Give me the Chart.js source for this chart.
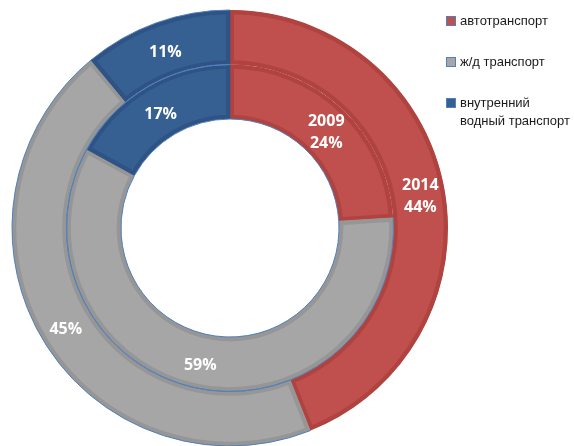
<!DOCTYPE html>
<html>
<head>
<meta charset="utf-8">
<script src="https://cdn.jsdelivr.net/npm/chart.js@4"></script>
<style>
  html, body { margin: 0; padding: 0; background: #fff; }
  #wrap { position: relative; width: 574px; height: 446px; }
  #legend { position: absolute; left: 446px; top: 12px; font-family: "Liberation Sans", sans-serif; font-size: 13px; color: #1a1a1a; }
  .item { position: relative; padding-left: 14px; line-height: 18px; margin-bottom: 23px; }
  .box { position: absolute; left: 0; top: 4px; width: 8px; height: 8px; border: 1px solid #4F81BD; }
</style>
</head>
<body>
<div id="wrap">
  <canvas id="chart" width="574" height="446"></canvas>
  <div id="legend"></div>
</div>
<script>
// --- Data ---
const categories = ["автотранспорт", "ж/д транспорт", "внутренний водный транспорт"];
const legendLines = [["автотранспорт"], ["ж/д транспорт"], ["внутренний", "водный транспорт"]];
const years = ["2014", "2009"];
const values2014 = [44, 45, 11];
const values2009 = [24, 59, 17];

const fillColors = ["#C0504D", "#A6A6A6", "#376092"];
const edgeColors = ["#B0433F", "#969696", "#2E5384"];

// --- Legend (HTML) ---
const legendEl = document.getElementById("legend");
legendLines.forEach((lines, i) => {
  const div = document.createElement("div");
  div.className = "item";
  div.innerHTML = '<span class="box" style="background:' + fillColors[i] + '"></span>' + lines.join("<br>");
  legendEl.appendChild(div);
});

// --- Plugin: thin blue outlines + value labels ---
const ringDecor = {
  id: "ringDecor",
  afterDatasetsDraw(chart) {
    const ctx = chart.ctx;
    ctx.save();
    ctx.strokeStyle = "#4F81BD";
    ctx.lineWidth = 1;
    chart.data.datasets.forEach((ds, di) => {
      const meta = chart.getDatasetMeta(di);
      meta.data.forEach((arc, i) => {
        const p = arc.getProps(["x", "y", "startAngle", "endAngle", "innerRadius", "outerRadius"], true);
        if (i > 0 || di > 0) {
          ctx.beginPath();
          ctx.arc(p.x, p.y, p.innerRadius, p.startAngle, p.endAngle);
          ctx.stroke();
        }
        if (i > 0) {
          ctx.beginPath();
          ctx.arc(p.x, p.y, p.outerRadius, p.startAngle, p.endAngle);
          ctx.stroke();
        }
      });
    });
    ctx.restore();

    ctx.save();
    ctx.fillStyle = "#fff";
    ctx.font = "bold 16px 'Open Sans', sans-serif";
    ctx.textAlign = "center";
    ctx.textBaseline = "middle";
    chart.data.datasets.forEach((ds, di) => {
      const meta = chart.getDatasetMeta(di);
      meta.data.forEach((arc, i) => {
        const pos = arc.tooltipPosition();
        const txt = ds.data[i] + "%";
        const y = pos.y + 4;
        if (i === 0) {
          ctx.fillText(ds.label, pos.x + 3, y - 11);
          ctx.fillText(txt, pos.x + 3, y + 11);
        } else {
          ctx.fillText(txt, pos.x, y);
        }
      });
    });
    ctx.restore();
  }
};

new Chart(document.getElementById("chart"), {
  type: "doughnut",
  data: {
    labels: categories,
    datasets: [
      { label: years[0], data: values2014, backgroundColor: fillColors, borderColor: edgeColors, borderWidth: 4, borderAlign: "inner" },
      { label: years[1], data: values2009, backgroundColor: fillColors, borderColor: edgeColors, borderWidth: 4, borderAlign: "inner" }
    ]
  },
  options: {
    responsive: false,
    animation: false,
    cutout: "50%",
    layout: { padding: { left: 12, right: 126, top: 10, bottom: 0 } },
    plugins: {
      legend: { display: false },
      tooltip: { enabled: false }
    }
  },
  plugins: [ringDecor]
});
</script>
</body>
</html>
